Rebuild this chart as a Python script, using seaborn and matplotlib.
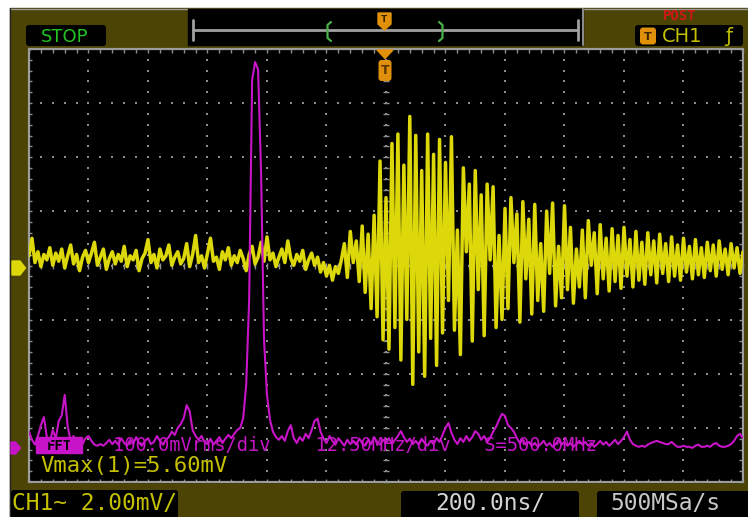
import numpy as np
import pandas as pd
import matplotlib
matplotlib.use("Agg")
import matplotlib.pyplot as plt
from matplotlib.patches import Rectangle, FancyBboxPatch, Polygon
from matplotlib.collections import LineCollection
import seaborn as sns

# ---------------------------------------------------------------- data
# CH1 record: 10 ns between samples, first sample 1200 ns before the trigger
ch1_t0_ns = -1200
ch1_dt_ns = 10
ch1_mv = [
    0.45, 1.10, 0.20, 0.60, 0.05, 0.50, 0.30, 0.75, 0.10, 0.55,
    0.25, 0.70, 0.00, 0.45, 0.85, 0.15, 0.50, -0.10, 0.40, 0.65,
    0.20, 0.55, 0.95, 0.10, 0.40, 0.70, -0.05, 0.35, 0.60, 0.15,
    0.50, 0.25, 0.80, 0.05, 0.45, 0.30, 0.65, -0.10, 0.35, 0.55,
    1.05, 0.20, 0.50, 0.00, 0.70, 0.30, 0.45, 0.85, 0.10, 0.40,
    0.60, 0.15, 0.35, 0.90, 0.05, 0.50, 1.20, 0.20, 0.45, 0.00,
    0.55, 1.10, 0.25, 0.40, -0.05, 0.60, 0.30, 0.75, 0.10, 0.45,
    0.20, 0.65, 0.35, -0.10, 0.50, 0.80, 0.15, 0.40, 0.95, 0.25,
    1.15, 0.30, 0.55, 0.05, 0.40, 0.70, 0.20, 1.00, 0.35, 0.10,
    0.50, 0.25, 0.65, -0.05, 0.30, 0.55, 0.10, 0.40, -0.15, 0.20,
    -0.30, 0.10, -0.45, 0.05, -0.20, 0.30, 0.90, -0.35, 1.35, 0.20,
    1.00, -0.50, 1.55, -0.90, 1.25, -1.50, 1.95, -1.80, 3.95, -2.65,
    2.60, -3.00, 4.60, -2.20, 4.95, -3.40, 3.80, -1.90, 5.60, -4.30,
    4.90, -3.10, 3.60, -4.00, 4.95, -2.60, 4.20, -3.60, 4.75, -2.40,
    3.90, -1.20, 4.85, -2.30, 1.40, -3.20, 3.70, 0.60, 3.10, -2.70,
    3.60, -0.80, 2.70, -2.50, 3.10, 0.30, 3.00, -2.20, 1.20, -1.90,
    2.20, -1.50, 2.60, 0.20, 2.00, -2.00, 2.45, -0.40, 1.80, -1.70,
    2.35, -1.20, 0.90, -1.60, 2.10, -0.20, 2.40, -1.40, 0.80, -1.10,
    2.30, -0.80, 1.50, -1.30, 0.70, -0.70, 1.40, -1.10, 1.75, 0.10,
    1.30, -0.95, 1.60, -0.40, 1.10, -0.85, 1.45, -0.50, 1.20, -0.75,
    1.50, -0.30, 1.05, -0.70, 1.35, -0.45, 0.95, -0.60, 1.30, -0.25,
    1.00, -0.55, 1.25, -0.20, 0.90, -0.50, 1.15, -0.30, 0.85, -0.45,
    1.10, -0.15, 0.80, -0.40, 1.05, -0.25, 0.75, -0.35, 0.95, -0.10,
    0.85, -0.30, 1.00, -0.05, 0.70, -0.25, 0.90, 0.00, 0.75, -0.20,
    0.60,
]

# FFT of CH1: 0.625 MHz bins starting at DC
fft_f0_mhz = 0.0
fft_df_mhz = 0.625
fft_mvrms = [
    30, 15, 6, 22, 42, 57, 20, 11, 33, 18,
    50, 60, 98, 40, 13, 22, 6, 17, 7, 18,
    22, 13, 6, 4, 7, 4, 9, 15, 7, 13,
    6, 18, 9, 4, 15, 7, 20, 9, 4, 13,
    18, 7, 11, 22, 13, 6, 15, 20, 30, 24,
    37, 44, 55, 79, 68, 33, 22, 15, 22, 11,
    7, 17, 6, 13, 20, 9, 17, 24, 18, 26,
    33, 37, 55, 116, 273, 680, 713, 699, 510, 200,
    98, 52, 30, 20, 15, 22, 13, 31, 42, 18,
    9, 20, 13, 26, 18, 33, 50, 54, 30, 17,
    9, 22, 13, 6, 18, 11, 4, 15, 7, 13,
    6, 17, 9, 4, 15, 7, 20, 11, 6, 15,
    9, 18, 7, 15, 22, 31, 20, 11, 17, 7,
    13, 6, 17, 9, 4, 13, 7, 18, 11, 24,
    37, 46, 28, 15, 7, 18, 11, 22, 13, 20,
    31, 26, 15, 22, 11, 18, 30, 39, 52, 63,
    59, 42, 37, 30, 18, 9, 15, 6, 11, 4,
    9, 2, 7, 13, 4, 9, 2, 7, 15, 6,
    11, 4, 9, 2, 7, 13, 6, 11, 4, 9,
    2, 7, 13, 6, 11, 4, 9, 15, 7, 13,
    20, 30, 15, 7, 4, 2, 4, 2, 6, 9,
    11, 13, 11, 9, 7, 7, 11, 6, 2, 2,
    4, 2, 2, 0, 4, 6, 2, 2, 4, 2,
    7, 9, 4, 2, 2, 4, 7, 13, 22, 26,
    18,
]

# front-panel settings and readouts
ch1_mv_per_div = 2.0
ch1_offset_div = -0.046
time_ns_per_div = 200.0
fft_mhz_per_div = 12.5
fft_mvrms_per_div = 100.0
fft_offset_div = -3.37
run_state = "STOP"
trig_state = "POST"
trig_source = "CH1"
ch1_scale_label = "CH1~ 2.00mV/"
timebase_label = "200.0ns/"
sample_rate_label = "500MSa/s"
fft_info_label = "100.0mVrms/div    12.50MHz/div   S=500.0MHz"

# ---------------------------------------------------------------- style
sns.set_theme(style="white")
plt.rcParams["font.family"] = ["DejaVu Sans"]
MONO = "DejaVu Sans Mono"

OLIVE = "#4b4405"
YEL = "#dcd80a"
YEL_TXT = "#c4c000"
MAG = "#c814c8"
GRID = "#8f8f8f"
ORANGE = "#e0900a"
GREEN = "#22c422"

W, H = 748, 517
fig = plt.figure(figsize=(W / 100, H / 100), dpi=100, facecolor="white")

# panel chrome in pixel coordinates
bg = fig.add_axes([0, 0, 1, 1])
bg.set_xlim(0, W)
bg.set_ylim(H, 0)
bg.axis("off")

bg.add_patch(Rectangle((10, 8), W - 10, H - 8, color=OLIVE, zorder=0))
bg.plot([10, W], [8.5, 8.5], color="#9a9a9a", lw=1.0, zorder=1)
bg.plot([10.5, 10.5], [8, H], color="#262626", lw=1.0, zorder=1)

# screen area
gx0, gy0, gw, gh = 29.0, 49.0, 714.0, 433.0
dxp, dyp = gw / 12, gh / 8
bg.add_patch(Rectangle((gx0, gy0), gw, gh, color="black", zorder=1))

# dotted division lines
xs, ys = [], []
for i in range(1, 12):
    for j in range(41):
        xs.append(gx0 + i * dxp)
        ys.append(gy0 + j * dyp / 5)
for j in range(1, 8):
    for i in range(61):
        xs.append(gx0 + i * dxp / 5)
        ys.append(gy0 + j * dyp)
bg.scatter(xs, ys, s=2.4, marker="s", color=GRID, linewidths=0, zorder=2)

# centre-axis and border ticks
segs = []
cx, cy = gx0 + 6 * dxp, gy0 + 4 * dyp
for j in range(41):
    y = gy0 + j * dyp / 5
    segs.append([(cx - 3, y), (cx + 3, y)])
    segs.append([(gx0, y), (gx0 + 3.5, y)])
    segs.append([(gx0 + gw - 3.5, y), (gx0 + gw, y)])
for i in range(61):
    x = gx0 + i * dxp / 5
    segs.append([(x, cy - 3), (x, cy + 3)])
    segs.append([(x, gy0), (x, gy0 + 3.5)])
    segs.append([(x, gy0 + gh - 3.5), (x, gy0 + gh)])
bg.add_collection(LineCollection(segs, colors=GRID, linewidths=1.0, zorder=2))
bg.add_patch(Rectangle((gx0, gy0), gw, gh, fill=False, ec="#9c9c9c", lw=1.6, zorder=3))

# top-left run state
bg.add_patch(FancyBboxPatch((26, 25), 80, 21, boxstyle="round,pad=0,rounding_size=3",
                            fc="black", ec="none", zorder=2))
bg.text(65, 36.5, run_state, color=GREEN, fontsize=13, ha="center", va="center",
        family="DejaVu Sans", zorder=3)

# memory / trigger position bar
bg.add_patch(Rectangle((188, 9), 395, 36, color="black", zorder=2))
bg.plot([583, 583], [9, 45], color="#8a8a8a", lw=1.5, zorder=3)
bg.plot([193, 578], [30, 30], color="#a0a0a0", lw=2.0, zorder=3)
bg.plot([193, 193], [20, 40], color="#a0a0a0", lw=2.0, zorder=3)
bg.plot([578, 578], [20, 40], color="#a0a0a0", lw=2.0, zorder=3)
bg.plot([331, 327.5, 327.5, 331], [22, 25, 38, 41], color="#4ab04a", lw=1.6, zorder=4)
bg.plot([439, 442.5, 442.5, 439], [22, 25, 38, 41], color="#4ab04a", lw=1.6, zorder=4)
bg.add_patch(Polygon([(378, 13), (391, 13), (391, 24), (384.5, 30), (378, 24)],
                     closed=True, color=ORANGE, zorder=4))
bg.text(384.5, 19.5, "T", color="#3a2500", fontsize=6.5, fontweight="bold",
        ha="center", va="center", zorder=5)

# top-right trigger readout
bg.text(680, 15.5, trig_state, color="#d01818", fontsize=10, fontweight="bold",
        ha="center", va="center", family=MONO, zorder=3)
bg.add_patch(FancyBboxPatch((635, 25), 108, 21, boxstyle="round,pad=0,rounding_size=3",
                            fc="black", ec="none", zorder=2))
bg.add_patch(FancyBboxPatch((640, 27.5), 16, 17, boxstyle="round,pad=0,rounding_size=3",
                            fc=ORANGE, ec="none", zorder=3))
bg.text(648, 36.5, "T", color="#3a2500", fontsize=8, fontweight="bold",
        ha="center", va="center", zorder=4)
bg.text(682, 36.5, trig_source, color=YEL_TXT, fontsize=14, ha="center", va="center",
        family="DejaVu Sans", zorder=3)
bg.text(729, 36.5, "ƒ", color=YEL_TXT, fontsize=14, ha="center", va="center",
        family="DejaVu Sans", zorder=3)

# trigger position marker at top of screen
bg.add_patch(Polygon([(377, 50), (393, 50), (385, 58.5)], closed=True, color=ORANGE, zorder=6))
bg.add_patch(FancyBboxPatch((378.5, 60), 13, 21, boxstyle="round,pad=0,rounding_size=3",
                            fc=ORANGE, ec="none", zorder=6))
bg.text(385, 70.5, "T", color="#5a3500", fontsize=9, fontweight="bold",
        ha="center", va="center", zorder=7)

# channel ground markers
bg.add_patch(Polygon([(12, 261), (20, 261), (25.5, 268), (20, 275), (12, 275)],
                     closed=True, color=YEL, zorder=3))
bg.add_patch(Polygon([(11, 442), (15.5, 442), (20.5, 448), (15.5, 454), (11, 454)],
                     closed=True, color=MAG, zorder=3))

# FFT readout
bg.add_patch(Rectangle((36, 437), 46, 16, color=MAG, zorder=3))
bg.text(59, 445.5, "FFT", color="black", fontsize=10, fontweight="bold",
        ha="center", va="center", family=MONO, zorder=4)
bg.text(113, 445.5, fft_info_label, color=MAG, fontsize=13.5, ha="left", va="center",
        family=MONO, zorder=4)

# measurement readout
vmax_label = f"Vmax(1)={max(ch1_mv):.2f}mV"
bg.text(40, 466, vmax_label, color=YEL_TXT, fontsize=16, ha="left", va="center",
        family=MONO, zorder=4)

# bottom status boxes
for (x0, y0, w, h) in [(11, 490, 167, 30), (401, 491, 178, 30), (597, 491, 155, 30)]:
    bg.add_patch(FancyBboxPatch((x0, y0), w, h, boxstyle="round,pad=0,rounding_size=3",
                                fc="black", ec="none", zorder=2))
bg.text(12, 503, ch1_scale_label, color=YEL_TXT, fontsize=16.5, ha="left", va="center",
        family=MONO, zorder=3)
bg.text(490, 503.5, timebase_label, color="#d4d4d4", fontsize=16.5, ha="center", va="center",
        family=MONO, zorder=3)
bg.text(665, 503.5, sample_rate_label, color="#c8c8c8", fontsize=16.5, ha="center", va="center",
        family=MONO, zorder=3)

# ---------------------------------------------------------------- traces
pos = [gx0 / W, (H - gy0 - gh) / H, gw / W, gh / H]

ax = fig.add_axes(pos)
ax.set_facecolor("none")
ch1 = pd.DataFrame({
    "t_ns": ch1_t0_ns + ch1_dt_ns * np.arange(len(ch1_mv)),
    "mv": ch1_mv,
})
sns.lineplot(data=ch1, x="t_ns", y="mv", ax=ax, color=YEL, lw=2.5,
             estimator=None, sort=False, legend=False)
ax.set_xlim(-6 * time_ns_per_div, 6 * time_ns_per_div)
ax.set_ylim((-4 - ch1_offset_div) * ch1_mv_per_div, (4 - ch1_offset_div) * ch1_mv_per_div)
ax.axis("off")

ax2 = fig.add_axes(pos)
ax2.set_facecolor("none")
fft = pd.DataFrame({
    "f_mhz": fft_f0_mhz + fft_df_mhz * np.arange(len(fft_mvrms)),
    "mvrms": fft_mvrms,
})
sns.lineplot(data=fft, x="f_mhz", y="mvrms", ax=ax2, color=MAG, lw=1.5,
             estimator=None, sort=False, legend=False)
ax2.set_xlim(0, 12 * fft_mhz_per_div)
ax2.set_ylim((-4 - fft_offset_div) * fft_mvrms_per_div, (4 - fft_offset_div) * fft_mvrms_per_div)
ax2.axis("off")

fig.savefig("out.png", dpi=100, facecolor="white")
